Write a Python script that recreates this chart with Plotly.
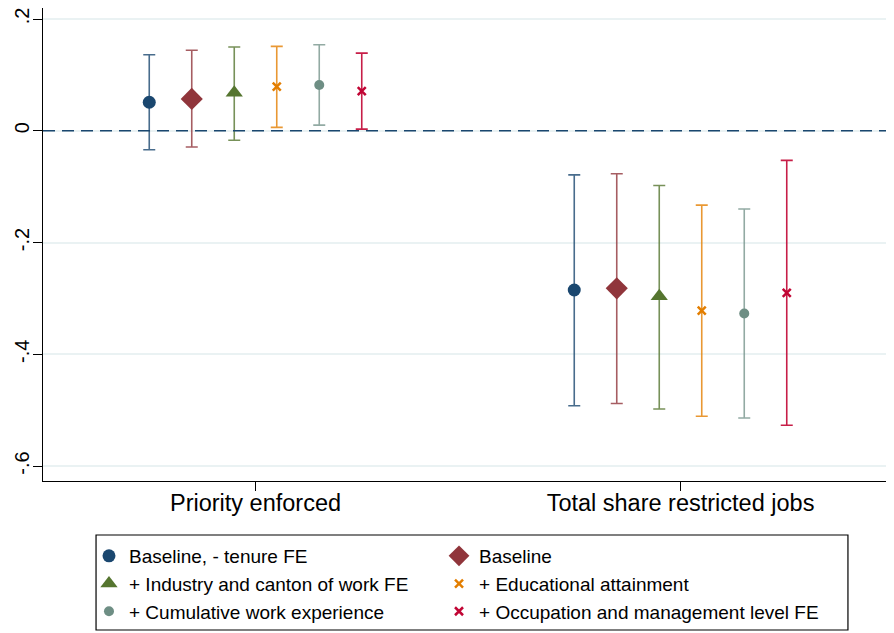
import plotly.graph_objects as go

categories = ["Priority enforced", "Total share restricted jobs"]
series_names = [
    "Baseline, - tenure FE",
    "Baseline",
    "+ Industry and canton of work FE",
    "+ Educational attainment",
    "+ Cumulative work experience",
    "+ Occupation and management level FE",
]
# point estimates per series: [Priority enforced, Total share restricted jobs]
estimates = [
    [0.051, -0.285],
    [0.057, -0.282],
    [0.068, -0.296],
    [0.079, -0.322],
    [0.082, -0.327],
    [0.071, -0.290],
]
ci_upper = [
    [0.136, -0.079],
    [0.144, -0.077],
    [0.150, -0.098],
    [0.151, -0.133],
    [0.154, -0.140],
    [0.139, -0.053],
]
ci_lower = [
    [-0.034, -0.492],
    [-0.029, -0.488],
    [-0.017, -0.498],
    [0.006, -0.511],
    [0.010, -0.514],
    [0.003, -0.527],
]
y_tickvals = [0.2, 0, -0.2, -0.4, -0.6]
y_ticktext = [".2", "0", "-.2", "-.4", "-.6"]

colors = ["#1a476f", "#90353b", "#55752f", "#e37e00", "#6e8e84", "#c10534"]
bar_colors = ["rgba(26,71,111,0.8)", "rgba(144,53,59,0.8)", "rgba(85,117,47,0.8)",
              "rgba(227,126,0,0.8)", "rgba(110,142,132,0.75)", "rgba(193,5,52,0.9)"]
symbols = ["circle", "diamond", "triangle-up", "x-thin", "circle", "x-thin"]
sizes = [13, 17, 15, 8, 10, 8]
offsets = [-0.25, -0.15, -0.05, 0.05, 0.15, 0.25]
legend_ids = ["legend", "legend2", "legend", "legend2", "legend", "legend2"]

fig = go.Figure()
for i, name in enumerate(series_names):
    xs = [j + 1 + offsets[i] for j in range(len(categories))]
    ys = estimates[i]
    plus = [u - e for u, e in zip(ci_upper[i], ys)]
    minus = [e - l for e, l in zip(ys, ci_lower[i])]
    sym = symbols[i]
    marker = dict(color=colors[i], size=sizes[i], symbol=sym)
    if sym == "x-thin":
        marker["line"] = dict(color=colors[i], width=2.5)
    fig.add_trace(go.Scatter(
        x=xs, y=ys, mode="markers", name=name, marker=marker, legend=legend_ids[i],
        error_y=dict(type="data", symmetric=False, array=plus, arrayminus=minus,
                     color=bar_colors[i], thickness=1.6, width=6),
    ))

# dashed reference line at zero
fig.add_shape(type="line", xref="paper", x0=0, x1=1, yref="y", y0=0, y1=0,
              line=dict(color="#1a476f", width=1.6, dash="12px,7px"), layer="above")
# legend frame
fig.add_shape(type="rect", xref="paper", yref="paper", x0=0.0624, x1=0.947,
              y0=-0.1142, y1=-0.315, line=dict(color="black", width=1.2),
              fillcolor="rgba(0,0,0,0)", layer="above")

legend_common = dict(
    orientation="v", yanchor="top", xanchor="left", y=-0.1184,
    borderwidth=0, bgcolor="rgba(0,0,0,0)", font=dict(size=19),
    tracegroupgap=0, itemsizing="trace",
)

fig.update_layout(
    width=886, height=625,
    margin=dict(l=35, r=1, t=0, b=152, autoexpand=False),
    paper_bgcolor="white", plot_bgcolor="white",
    font=dict(family="Liberation Sans, Arial, sans-serif", color="black", size=20),
    showlegend=True,
    legend=dict(x=0.0541, **legend_common),
    legend2=dict(x=0.4659, **legend_common),
    xaxis=dict(
        range=[0.5, 2.5], tickvals=[1, 2], ticktext=categories, automargin=False,
        showgrid=False, zeroline=False, showline=True, linecolor="black", linewidth=1.3,
        ticks="outside", ticklen=9, tickcolor="black", tickwidth=1.3,
        tickfont=dict(size=23.5), ticklabelstandoff=-8,
    ),
    yaxis=dict(
        range=[-0.6268, 0.2197], tickvals=y_tickvals, ticktext=y_ticktext, automargin=False,
        showgrid=True, gridcolor="#eaf2f3", gridwidth=1.5, zeroline=False,
        showline=True, linecolor="black", linewidth=1.3,
        ticks="outside", ticklen=9, tickcolor="black", tickwidth=1.3,
        tickangle=-90, tickfont=dict(size=20), ticklabelstandoff=-4,
        ticklabeloverflow="allow",
    ),
)

fig.write_html("out.html")
